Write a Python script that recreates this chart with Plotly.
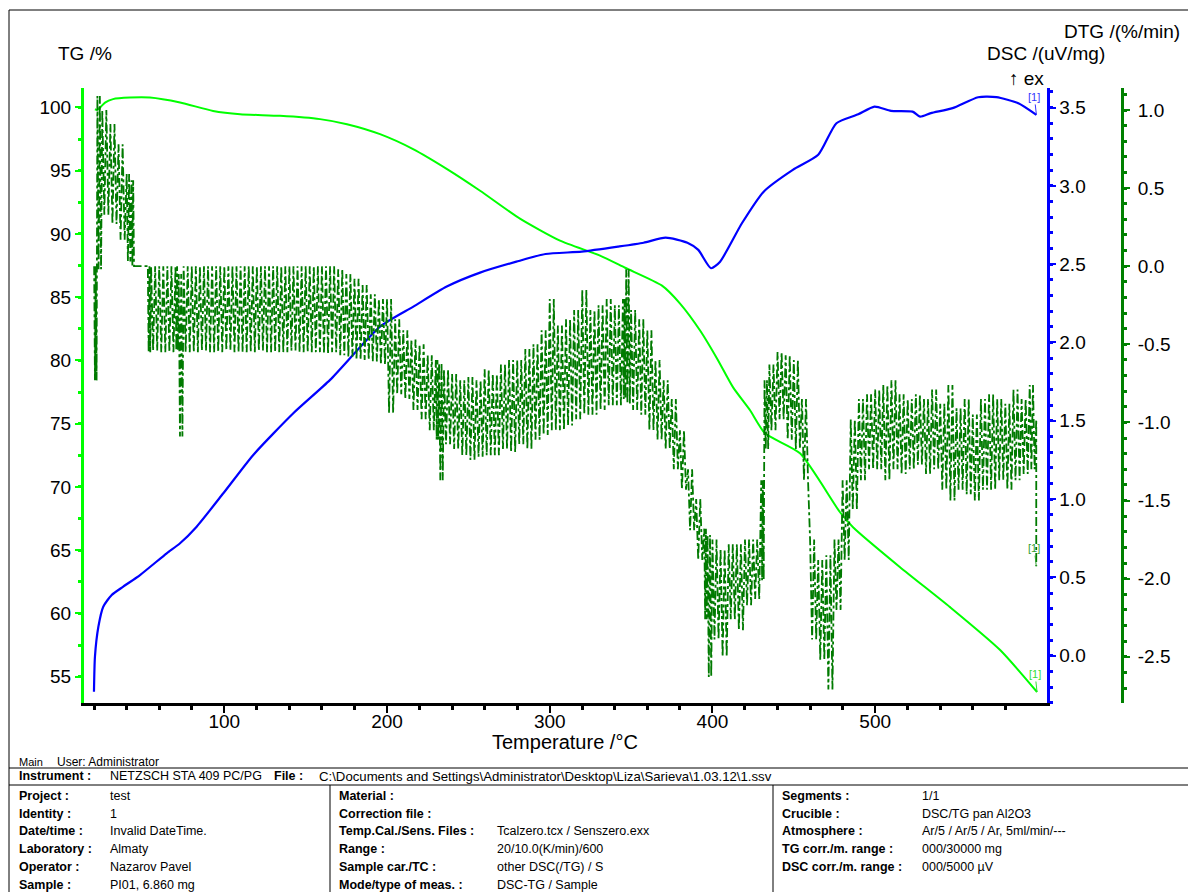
import plotly.graph_objects as go

W, H = 1188, 892

# ---------------- data ----------------
# TG curve: temperature (°C) and mass (%)
tg_t = [20.5, 21.8, 23.6, 26.7, 31.6, 42.0, 54.3, 72.8, 93.1, 109.7, 134.2, 158.8, 175.4,
        195.7, 216.0, 236.9, 257.2, 281.7, 306.3, 330.9, 346.3, 369.0, 380.1, 392.4, 402.8,
        412.7, 423.1, 432.3, 453.8, 478.4, 486.4, 515.3, 546.0, 576.8, 599.5]
tg_v = [99.86, 99.81, 99.99, 100.39, 100.66, 100.78, 100.78, 100.39, 99.73, 99.47, 99.34, 99.08, 98.68,
        97.89, 96.71, 95.13, 93.42, 91.21, 89.47, 88.29, 87.33, 85.92, 84.50, 82.37, 80.16,
        77.87, 76.06, 74.24, 72.66, 68.00, 66.82, 63.66, 60.50, 57.11, 53.79]

# DSC curve: temperature (°C) and uV/mg
dsc_t = [19.9, 20.5, 22.6, 25.6, 30.8, 37.9, 48.2, 64.6, 72.8, 83.0, 99.4, 117.8, 142.4, 165.0,
         195.7, 216.2, 236.7, 257.2, 279.5, 297.4, 319.7, 342.1, 357.7, 371.2, 384.6, 391.3,
         399.1, 404.7, 418.1, 431.5, 449.4, 465.0, 476.2, 489.6, 499.6, 509.7, 523.0, 527.6,
         534.2, 547.6, 563.3, 574.5, 588.0, 599.1]
dsc_v = [-0.230, -0.006, 0.185, 0.313, 0.388, 0.441, 0.515, 0.654, 0.718, 0.824, 1.037, 1.282,
         1.548, 1.761, 2.101, 2.229, 2.357, 2.446, 2.516, 2.565, 2.580, 2.612, 2.637, 2.669,
         2.637, 2.591, 2.474, 2.516, 2.761, 2.963, 3.102, 3.198, 3.400, 3.457, 3.506, 3.479,
         3.474, 3.442, 3.464, 3.496, 3.566, 3.566, 3.527, 3.453]

# DTG (noisy signal): temperature with the upper and lower extent of the noise band (%/min)
dtg_t = [20, 22, 25, 30, 35, 40, 43, 45, 50, 53, 55, 60, 65, 70, 72, 75, 80, 85, 90, 95, 100,
         105, 110, 115, 120, 125, 130, 135, 140, 145, 150, 155, 160, 165, 170, 175, 180, 185,
         190, 195, 200, 205, 210, 215, 220, 225, 230, 232, 235, 240, 245, 250, 255, 260, 265,
         270, 275, 280, 285, 290, 295, 300, 305, 310, 315, 320, 325, 330, 335, 340, 345, 347,
         350, 355, 360, 365, 370, 375, 380, 385, 390, 395, 397, 400, 405, 410, 415, 420, 425,
         430, 432, 435, 440, 445, 450, 455, 460, 465, 470, 475, 480, 485, 490, 495, 500, 505,
         510, 515, 520, 525, 530, 535, 540, 545, 550, 555, 560, 565, 570, 575, 580, 585, 590,
         595, 599]
dtg_hi = [0.00, 1.09, 1.00, 0.91, 0.78, 0.59, 0.55, 0.00, 0.00, 0.00, 0.00, 0.00, 0.00, 0.00,
          -0.05, 0.00, 0.00, 0.00, 0.00, 0.00, 0.00, 0.00, 0.00, 0.00, 0.00, 0.00, 0.00, 0.00,
          0.00, 0.00, 0.00, 0.00, 0.00, 0.00, -0.02, -0.05, -0.08, -0.12, -0.18, -0.21, -0.21,
          -0.34, -0.41, -0.47, -0.50, -0.57, -0.60, -0.62, -0.66, -0.69, -0.73, -0.71, -0.73,
          -0.66, -0.69, -0.63, -0.60, -0.60, -0.53, -0.50, -0.41, -0.21, -0.38, -0.34, -0.28,
          -0.15, -0.28, -0.25, -0.21, -0.25, -0.21, -0.02, -0.28, -0.34, -0.41, -0.60, -0.73,
          -0.85, -1.05, -1.30, -1.49, -1.68, -1.72, -1.75, -1.81, -1.78, -1.78, -1.75, -1.75,
          -1.37, -0.73, -0.63, -0.55, -0.57, -0.60, -0.85, -1.75, -1.88, -1.85, -1.75, -1.37,
          -0.98, -0.85, -0.82, -0.79, -0.76, -0.73, -0.82, -0.85, -0.82, -0.85, -0.79, -0.88,
          -0.76, -0.91, -0.85, -0.95, -0.85, -0.82, -0.85, -0.88, -0.79, -0.85, -0.76, -0.98]
dtg_lo = [-0.73, -0.02, 0.33, 0.27, 0.17, 0.03, 0.00, 0.00, 0.00, -0.55, -0.54, -0.55, -0.55,
          -0.54, -1.09, -0.55, -0.55, -0.54, -0.55, -0.55, -0.54, -0.55, -0.55, -0.55, -0.54,
          -0.55, -0.55, -0.55, -0.54, -0.55, -0.55, -0.55, -0.56, -0.55, -0.57, -0.58, -0.60,
          -0.60, -0.61, -0.63, -0.94, -0.82, -0.85, -0.92, -0.98, -1.05, -1.11, -1.37, -1.14,
          -1.17, -1.21, -1.24, -1.22, -1.21, -1.21, -1.17, -1.19, -1.14, -1.17, -1.11, -1.08,
          -1.05, -1.05, -1.02, -0.98, -0.95, -0.95, -0.92, -0.89, -0.89, -0.85, -0.88, -0.92,
          -0.95, -1.05, -1.11, -1.17, -1.30, -1.43, -1.69, -1.88, -2.26, -2.63, -2.39, -2.50,
          -2.26, -2.33, -2.17, -2.13, -2.01, -1.17, -1.05, -0.98, -1.11, -1.17, -1.37, -2.39,
          -2.52, -2.71, -2.20, -1.88, -1.56, -1.37, -1.30, -1.30, -1.37, -1.30, -1.33, -1.30,
          -1.27, -1.33, -1.30, -1.43, -1.50, -1.43, -1.46, -1.50, -1.43, -1.43, -1.37, -1.43,
          -1.37, -1.33, -1.30, -1.92]

# axis ticks
x_ticks = [100, 200, 300, 400, 500]
x_minor = [20, 40, 60, 80, 120, 140, 160, 180, 220, 240, 260, 280, 320, 340, 360, 380,
           420, 440, 460, 480, 520, 540, 560, 580]
tg_ticks = [55, 60, 65, 70, 75, 80, 85, 90, 95, 100]
dsc_ticks = [0.0, 0.5, 1.0, 1.5, 2.0, 2.5, 3.0, 3.5]
dtg_ticks = [-2.5, -2.0, -1.5, -1.0, -0.5, 0.0, 0.5, 1.0]

# info table
left_labels = ["Project :", "Identity :", "Date/time :", "Laboratory :", "Operator :", "Sample :"]
left_values = ["test", "1", "Invalid DateTime.", "Almaty", "Nazarov Pavel", "PI01, 6.860 mg"]
mid_labels = ["Material :", "Correction file :", "Temp.Cal./Sens. Files :", "Range :",
              "Sample car./TC :", "Mode/type of meas. :"]
mid_values = ["", "", "Tcalzero.tcx / Senszero.exx", "20/10.0(K/min)/600",
              "other DSC(/TG) / S", "DSC-TG / Sample"]
right_labels = ["Segments :", "Crucible :", "Atmosphere :", "TG corr./m. range :",
                "DSC corr./m. range :"]
right_values = ["1/1", "DSC/TG pan Al2O3", "Ar/5 / Ar/5 / Ar, 5ml/min/---", "000/30000 mg",
                "000/5000 µV"]

# ---------------- build ----------------
FONT = "Liberation Sans, Arial, sans-serif"

def fx(p):
    return p / W

def fy(p):
    return 1 - p / H

# dense zig-zag through the noise band of the DTG signal (alternating upper/lower extent)
zx, zy = [], []
for i, t in enumerate(dtg_t):
    if i + 1 < len(dtg_t):
        step = (dtg_t[i + 1] - t) / 4
        for k in range(4):
            zx.append(t + k * step)
            zy.append(dtg_hi[i] if k % 2 == 0 else dtg_lo[i])
    else:
        zx += [t, t]
        zy += [dtg_hi[i], dtg_lo[i]]

fig = go.Figure()
fig.add_trace(go.Scatter(x=zx, y=zy, mode="lines", yaxis="y3",
                         line=dict(color="#007a00", width=1.8, dash="dashdot"),
                         showlegend=False, hoverinfo="skip"))
fig.add_trace(go.Scatter(x=dsc_t, y=dsc_v, mode="lines", yaxis="y2",
                         line=dict(color="#0000ff", width=2.2, shape="spline", smoothing=0.6),
                         showlegend=False))
fig.add_trace(go.Scatter(x=tg_t, y=tg_v, mode="lines", yaxis="y",
                         line=dict(color="#00ff00", width=2, shape="spline", smoothing=0.6),
                         showlegend=False))

x0, x1 = 84, 1046.5
ytop, ybot = 87.5, 703
tick_font = dict(family=FONT, size=19, color="black")

fig.update_layout(
    width=W, height=H, margin=dict(l=0, r=0, t=0, b=0),
    paper_bgcolor="white", plot_bgcolor="white", showlegend=False,
    xaxis=dict(domain=[fx(x0), fx(x1)], range=[13.77, 605.3], showline=True,
               linecolor="black", linewidth=3, ticks="outside", ticklen=7, tickwidth=2,
               tickcolor="black", tickmode="array", tickvals=x_ticks,
               ticktext=[str(v) for v in x_ticks], ticklabelstandoff=-8,
               minor=dict(tickmode="array", tickvals=x_minor, ticks="outside", ticklen=4,
                          tickwidth=3, tickcolor="black"),
               showgrid=False, zeroline=False, tickfont=tick_font, anchor="y"),
    yaxis=dict(domain=[fy(ybot), fy(ytop)], range=[52.92, 101.58], showline=True,
               linecolor="#00ff00", linewidth=3, ticks="outside", ticklen=6, tickwidth=2,
               tickcolor="#00ff00", tickmode="array", tickvals=tg_ticks,
               ticktext=[str(v) for v in tg_ticks],
               minor=dict(dtick=2.5, tick0=0, ticks="outside", ticklen=3, tickwidth=3,
                          tickcolor="#00ff00"),
               showgrid=False, zeroline=False, tickfont=tick_font, side="left"),
    yaxis2=dict(range=[-0.302, 3.628], overlaying="y", side="right", anchor="x",
                showline=True, linecolor="#0000ff", linewidth=3, ticks="outside", ticklen=6,
                tickwidth=2, tickcolor="#0000ff", tickmode="array", tickvals=dsc_ticks,
                ticktext=[f"{v:.1f}" for v in dsc_ticks],
                minor=dict(dtick=0.1, tick0=0, ticks="outside", ticklen=3, tickwidth=3,
                           tickcolor="#0000ff"),
                showgrid=False, zeroline=False, tickfont=tick_font),
    yaxis3=dict(range=[-2.796, 1.144], overlaying="y", side="right", anchor="free",
                position=fx(1122), showline=True, linecolor="#008000", linewidth=3,
                ticks="outside", ticklen=6, tickwidth=2, tickcolor="#008000",
                tickmode="array", tickvals=dtg_ticks,
                ticktext=[f"{v:.1f}" for v in dtg_ticks],
                minor=dict(dtick=0.1, tick0=0, ticks="outside", ticklen=3, tickwidth=3,
                           tickcolor="#008000"),
                showgrid=False, zeroline=False, tickfont=tick_font, ticklabelstandoff=4),
)

ann = []

def txt(x, y, s, size=12, anchor="left", color="black"):
    ann.append(dict(x=fx(x), y=fy(y), xref="paper", yref="paper", text=s, showarrow=False,
                    xanchor=anchor, yanchor="middle",
                    font=dict(family=FONT, size=size, color=color)))

# axis titles
txt(85, 53, "TG /%", 19, "center")
txt(1182, 31, "DTG /(%/min)", 19, "right")
txt(1107, 54, "DSC /(uV/mg)", 19, "right")
txt(1046, 79, "↑ ex", 19, "right")
txt(565, 742, "Temperature /°C", 20, "center")

# curve end markers
ann.append(dict(x=dsc_t[-1], y=dsc_v[-1], xref="x", yref="y2", text="[1]", showarrow=True,
                arrowhead=0, arrowwidth=1, arrowcolor="#3333ff", ax=-2, ay=-18,
                font=dict(family=FONT, size=11, color="#3333ff")))
ann.append(dict(x=dtg_t[-1], y=dtg_lo[-1], xref="x", yref="y3", text="[1]", showarrow=True,
                arrowhead=0, arrowwidth=1, arrowcolor="#33a033", ax=-2, ay=-18,
                font=dict(family=FONT, size=11, color="#33a033")))
ann.append(dict(x=tg_t[-1], y=tg_v[-1], xref="x", yref="y", text="[1]", showarrow=True,
                arrowhead=0, arrowwidth=1, arrowcolor="#33dd33", ax=-2, ay=-18,
                font=dict(family=FONT, size=11, color="#33dd33")))

# info block
txt(17, 762, "Main", 11)
txt(55, 762, "User: Administrator", 12)
txt(17, 776, "<b>Instrument :</b>", 12.5)
txt(108, 776, "NETZSCH STA 409 PC/PG", 12.5)
txt(272, 776, "<b>File :</b>", 12.5)
txt(317, 776, "C:\\Documents and Settings\\Administrator\\Desktop\\Liza\\Sarieva\\1.03.12\\1.ssv", 13.2)
rows_y = [796, 814, 831, 849, 867, 885]
for i, (lab, val) in enumerate(zip(left_labels, left_values)):
    txt(17, rows_y[i], f"<b>{lab}</b>", 12.5)
    txt(108, rows_y[i], val, 12.5)
for i, (lab, val) in enumerate(zip(mid_labels, mid_values)):
    txt(337, rows_y[i], f"<b>{lab}</b>", 12.5)
    if val:
        txt(495, rows_y[i], val, 12.5)
for i, (lab, val) in enumerate(zip(right_labels, right_values)):
    txt(780, rows_y[i], f"<b>{lab}</b>", 12.5)
    txt(920, rows_y[i], val, 12.5)

fig.update_layout(annotations=ann)

shapes = []

def line(xa, ya, xb, yb, w=1):
    shapes.append(dict(type="line", xref="paper", yref="paper", x0=fx(xa), y0=fy(ya),
                       x1=fx(xb), y1=fy(yb), line=dict(color="black", width=w)))

line(9, 10, 1188, 10)
line(9, 10, 9, 892)
line(9, 768, 1188, 768)
line(9, 785, 1188, 785)
line(330, 785, 330, 892)
line(773, 785, 773, 892)
fig.update_layout(shapes=shapes)

fig.write_html("out.html", config={"displayModeBar": False},
               post_script="document.body.style.margin='0px';document.body.style.overflow='hidden';")
